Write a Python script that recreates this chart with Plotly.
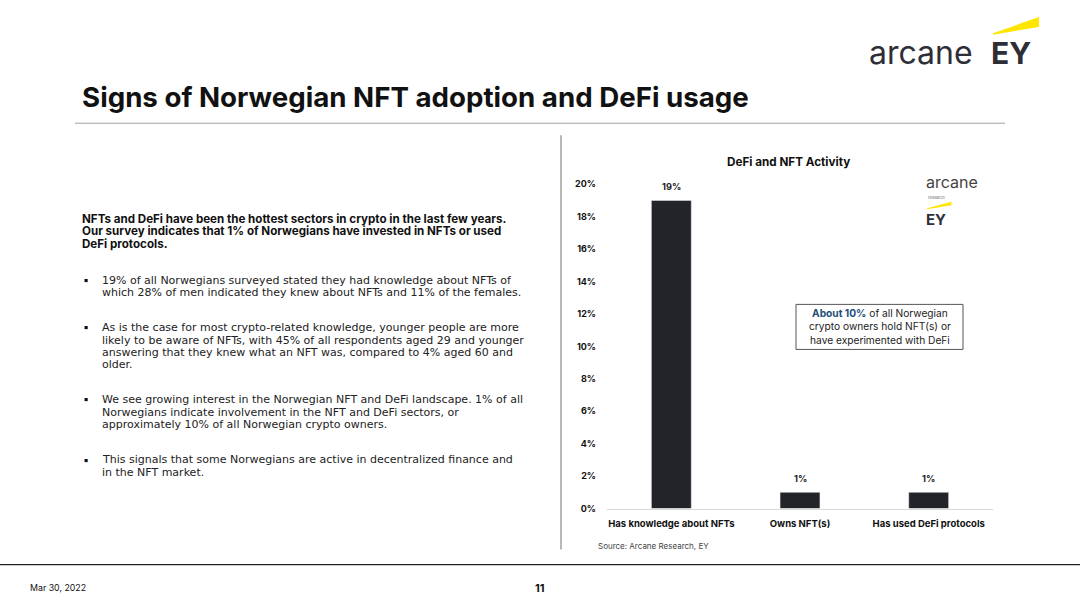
import plotly.graph_objects as go

categories = ["Has knowledge about NFTs", "Owns NFT(s)", "Has used DeFi protocols"]
values = [19, 1, 1]
value_labels = ["19%", "1%", "1%"]
y_ticks = [0, 2, 4, 6, 8, 10, 12, 14, 16, 18, 20]
y_tick_labels = [f"{t}%" for t in y_ticks]

W, H = 1080, 608
FONT = "Inter"
BODY = "DejaVu Sans"
DARK = "#222428"
# observed vertical mapping of the viewer: shown_y = VY0 + VS * figure_y
VY0, VS = 5.9, 0.981


def px(x):
    return x / W


def py(y):
    return 1 - ((y - VY0) / VS) / H


fig = go.Figure()
fig.add_trace(go.Bar(
    x=categories, y=values, marker_color=DARK, width=0.31, hoverinfo="skip",
))

annotations = []
shapes = []

# Value labels above bars, placed through the data axes
for c, v, lab in zip(categories, values, value_labels):
    annotations.append(dict(
        x=c, y=v, xref="x", yref="y", text=f"<b>{lab}</b>", showarrow=False,
        yanchor="bottom", yshift=6, font=dict(family=FONT, size=9.2, color=DARK),
    ))


def txt(x, y, s, size, bold=False, color=DARK, xanchor="left", family=FONT):
    annotations.append(dict(
        x=px(x), y=py(y), xref="paper", yref="paper", text=(f"<b>{s}</b>" if bold else s),
        showarrow=False, xanchor=xanchor, yanchor="middle",
        font=dict(family=family, size=size, color=color),
    ))


# Title
txt(80, 97, "Signs of Norwegian NFT adoption and DeFi usage", 27.7, bold=True, color="#111111")

# Header logo
txt(867, 52, "arcane", 32, color="#2e2e38")
txt(989, 53, "EY", 30, bold=True, color="#2e2e38")
shapes.append(dict(type="path", xref="paper", yref="paper",
                   path=f"M {px(993)},{py(33)} L {px(1039)},{py(17)} L {px(1039)},{py(27)} L {px(993)},{py(34.5)} Z",
                   fillcolor="#FFE600", line=dict(width=0)))

# Lines
shapes.append(dict(type="line", xref="paper", yref="paper", x0=px(75), x1=px(1005), y0=py(123), y1=py(123),
                   line=dict(color="#a0a0a0", width=1)))
shapes.append(dict(type="line", xref="paper", yref="paper", x0=px(561), x1=px(561), y0=py(135), y1=py(549),
                   line=dict(color="#a0a0a0", width=1.5)))
shapes.append(dict(type="line", xref="paper", yref="paper", x0=0, x1=1, y0=py(564), y1=py(564),
                   line=dict(color="#222222", width=1.2)))

# Footer
txt(28, 587, "Mar 30, 2022", 8.8, color="#111111")
txt(540, 587, "<b>11</b>", 11, color="#111111", xanchor="center")

# Left text
bold_lines = [
    (219, "NFTs and DeFi have been the hottest sectors in crypto in the last few years."),
    (231, "Our survey indicates that 1% of Norwegians have invested in NFTs or used"),
    (244, "DeFi protocols."),
]
for y, s in bold_lines:
    txt(80, y, s, 11.6, bold=True, color="#111111")

bullets = [
    [(280, "19% of all Norwegians surveyed stated they had knowledge about NFTs of"),
     (292, "which 28% of men indicated they knew about NFTs and 11% of the females.")],
    [(327, "As is the case for most crypto-related knowledge, younger people are more"),
     (340, "likely to be aware of NFTs, with 45% of all respondents aged 29 and younger"),
     (352, "answering that they knew what an NFT was, compared to 4% aged 60 and"),
     (364, "older.")],
    [(399, "We see growing interest in the Norwegian NFT and DeFi landscape. 1% of all"),
     (412, "Norwegians indicate involvement in the NFT and DeFi sectors, or"),
     (424, "approximately 10% of all Norwegian crypto owners.")],
    [(459, "This signals that some Norwegians are active in decentralized finance and"),
     (472, "in the NFT market.")],
]
for b in bullets:
    txt(81, b[0][0], "▪", 11, color="#111111")
    for y, s in b:
        txt(100, y, s, 11, color="#222222", family=BODY)

# Chart title
txt(788, 162, "DeFi and NFT Activity", 11.7, bold=True, color="#111111", xanchor="center")

# Small logo in chart
txt(924, 182, "arcane", 16, color="#444444")
txt(926, 197, "research", 4, color="#666666")
shapes.append(dict(type="path", xref="paper", yref="paper",
                   path=f"M {px(927)},{py(208)} L {px(951.5)},{py(201.5)} L {px(951.5)},{py(205)} L {px(927)},{py(209)} Z",
                   fillcolor="#FFE600", line=dict(width=0)))
txt(924, 219, "EY", 15, bold=True, color="#2e2e38")

# Callout box
shapes.append(dict(type="rect", xref="paper", yref="paper", x0=px(796), x1=px(963), y0=py(304), y1=py(349),
                   line=dict(color="#555555", width=1), fillcolor="white"))
annotations.append(dict(
    x=px(879.5), y=py(326.5), xref="paper", yref="paper", showarrow=False, xanchor="center", yanchor="middle",
    align="center",
    text='<b><span style="color:#1f4e79">About 10%</span></b> of all Norwegian<br>crypto owners hold NFT(s) or<br>have experimented with DeFi',
    font=dict(family=FONT, size=10.2, color="#222222"),
))

# Source
txt(596, 545, "Source: Arcane Research, EY", 8, color="#444444")

fig.update_layout(
    width=W, height=H, margin=dict(l=0, r=0, t=0, b=0),
    paper_bgcolor="white", plot_bgcolor="white", showlegend=False,
    annotations=annotations, shapes=shapes,
    xaxis=dict(domain=[px(607), px(993)], showgrid=False, showline=True, linecolor="#d9d9d9", linewidth=1,
               ticks="", tickfont=dict(family=FONT, size=9.5, color="#111111"), ticklabelstandoff=6,
               tickvals=categories, ticktext=[f"<b>{c}</b>" for c in categories], fixedrange=True),
    yaxis=dict(domain=[py(508), py(184)], range=[0, 20], showgrid=False, zeroline=False, showline=False,
               tickvals=y_ticks, ticktext=[f"<b>{t}</b>" for t in y_tick_labels], ticks="",
               ticklabelstandoff=10, tickfont=dict(family=FONT, size=9, color="#111111"), fixedrange=True),
    bargap=0.69,
)

fig.write_html(
    "out.html",
    config={"displayModeBar": False},
    post_script="document.body.style.margin='0';document.documentElement.style.overflow='hidden';",
)
